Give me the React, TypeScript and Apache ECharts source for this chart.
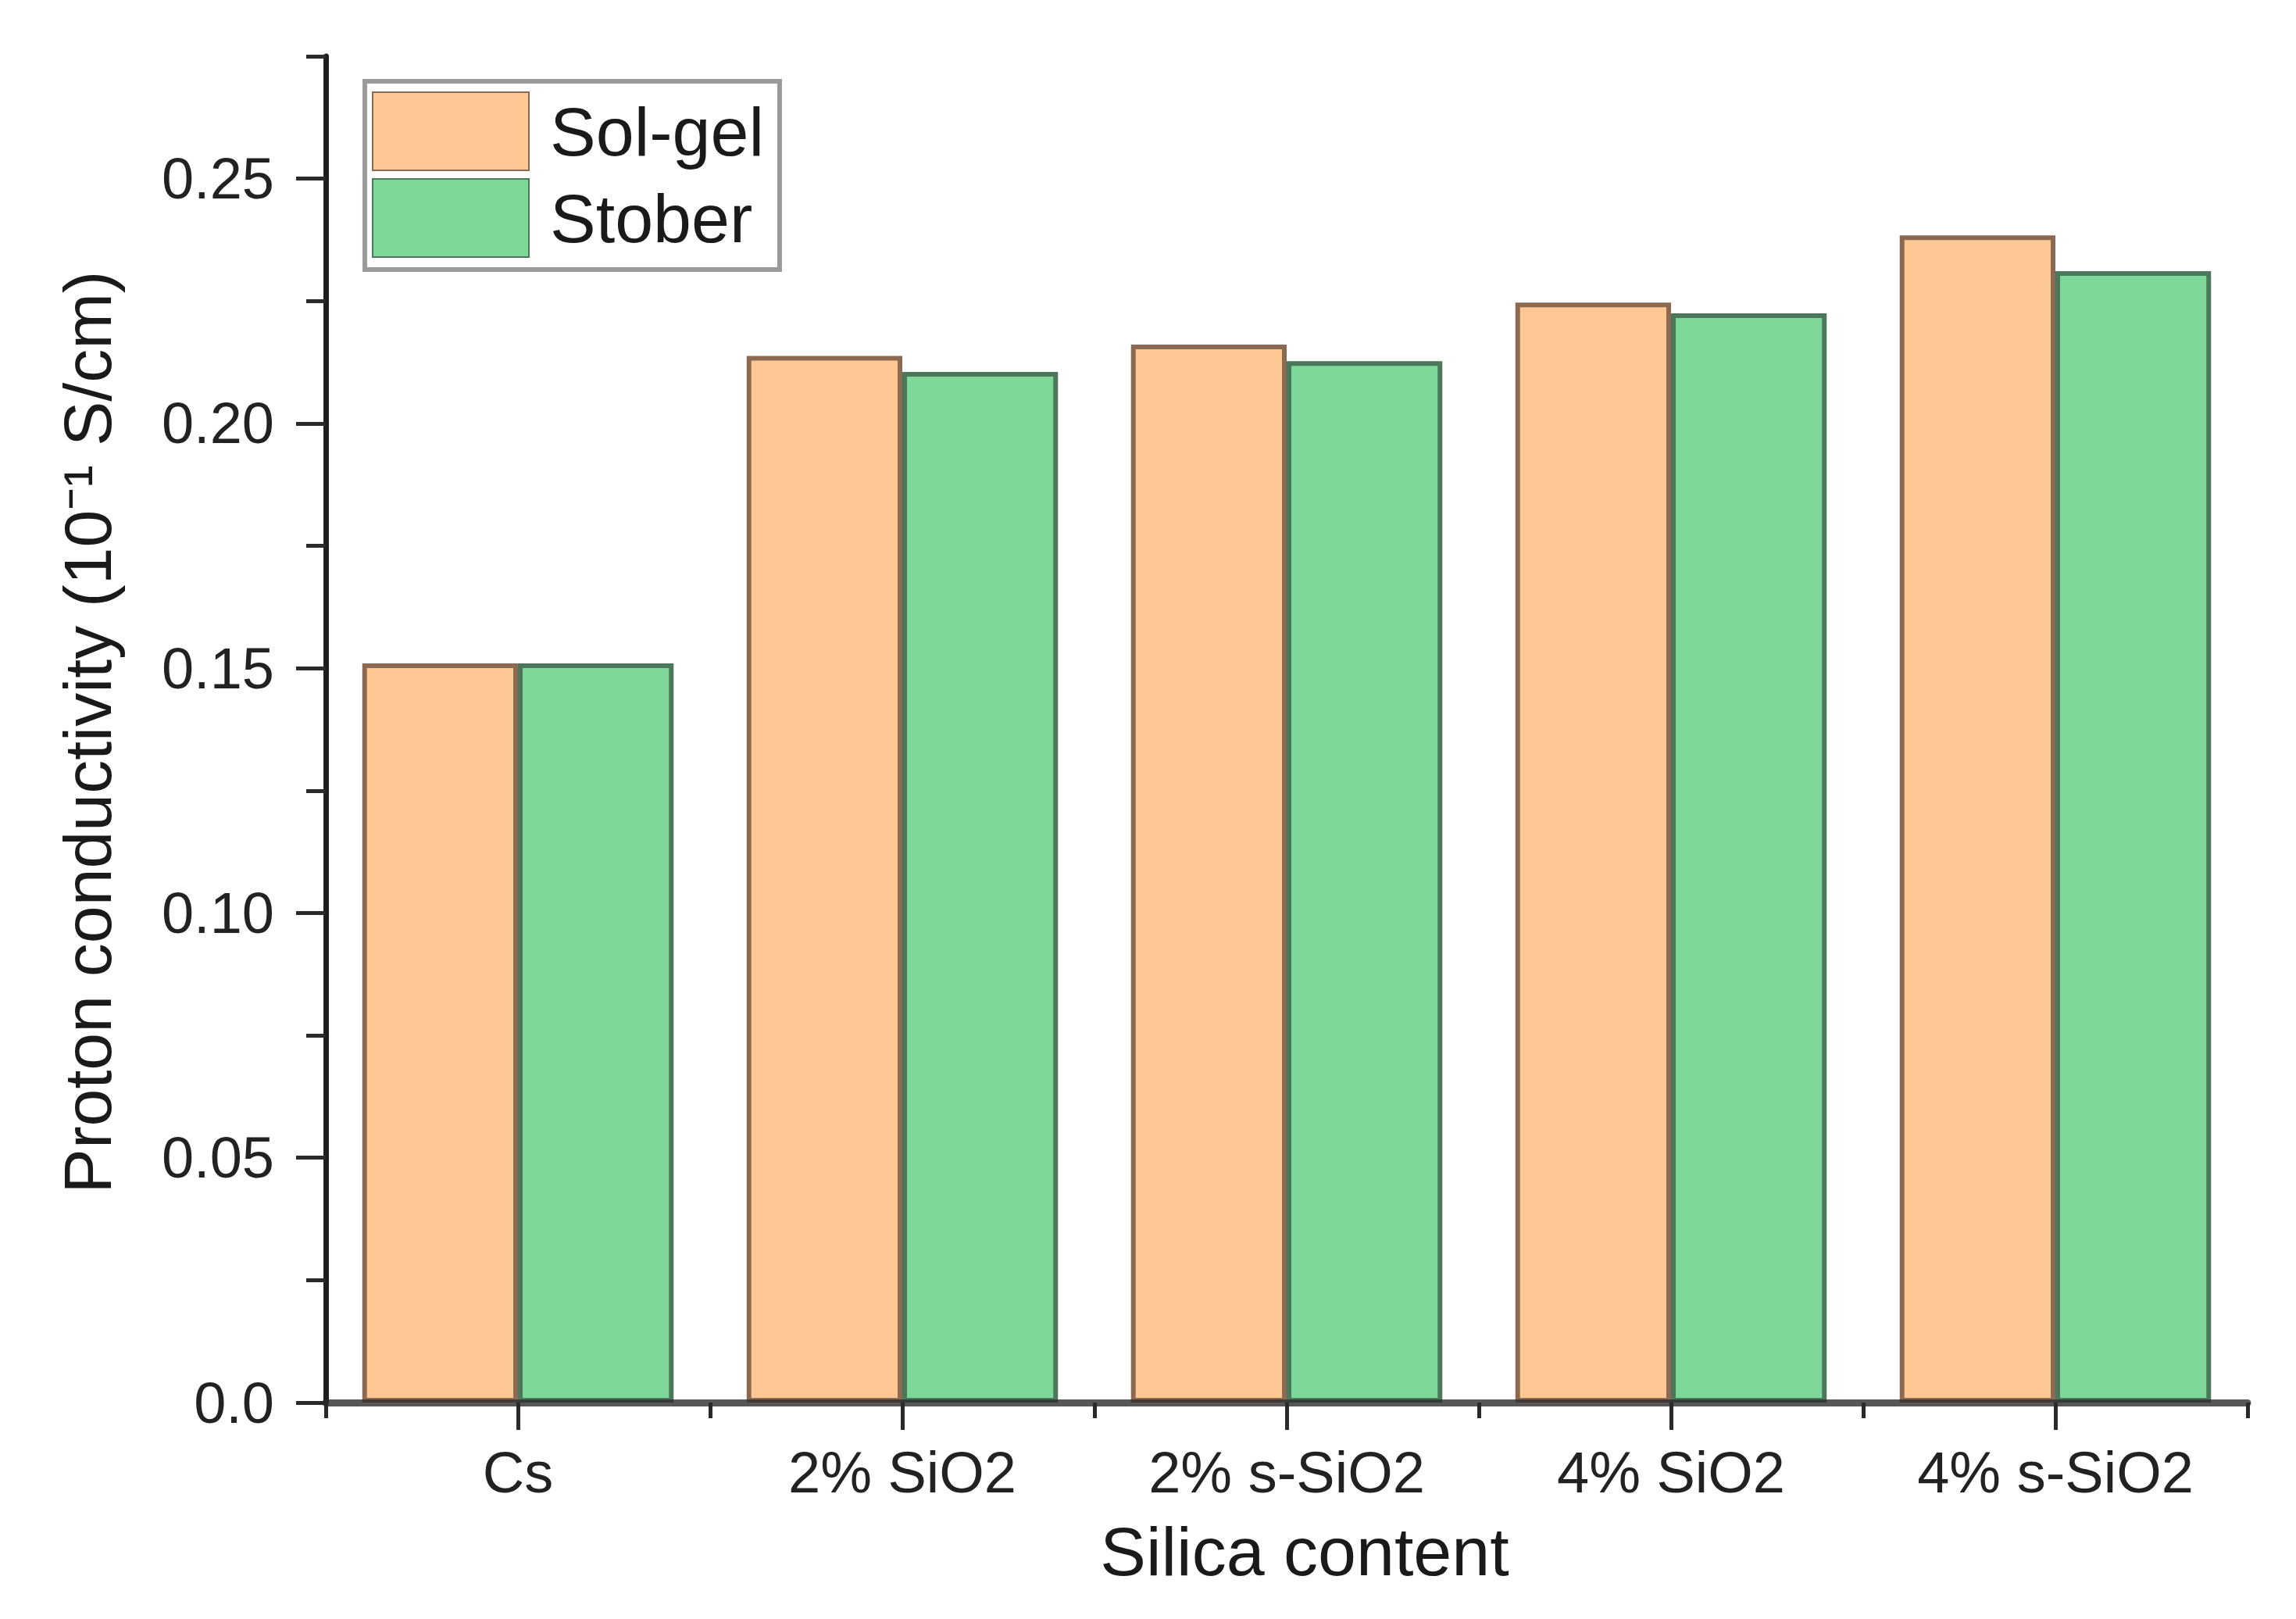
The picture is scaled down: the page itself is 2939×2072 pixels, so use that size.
import React, { useEffect, useRef } from "react";
import * as echarts from "echarts";

const categories = ["Cs", "2% SiO2", "2% s-SiO2", "4% SiO2", "4% s-SiO2"];
const solGel = [0.151, 0.2138, 0.2161, 0.2247, 0.2384];
const stober = [0.151, 0.2105, 0.2127, 0.2225, 0.2311];
const yTickValues = [0, 0.05, 0.1, 0.15, 0.2, 0.25];
const yTickLabels = ["0.0", "0.05", "0.10", "0.15", "0.20", "0.25"];
const seriesNames = ["Sol-gel", "Stober"];
const xTitle = "Silica content";
const yTitle = "Proton conductivity (10\u207B\u00B9 S/cm)";

const FONT = "'Liberation Sans', Arial, sans-serif";

export default function App() {
  const ref = useRef<HTMLDivElement>(null);
  useEffect(() => {
    if (!ref.current) return;
    const chart = echarts.init(ref.current, undefined, { renderer: "svg" });
    const tickStyle = { color: "#2a2a2a", width: 5 };
    chart.setOption({
      animation: false,
      backgroundColor: "#ffffff",
      grid: { left: 417, right: 62, top: 72, bottom: 277, containLabel: false },
      legend: {
        orient: "vertical",
        left: 467,
        top: 104,
        padding: [13, 20, 15, 9],
        borderColor: "#9a9a9a",
        borderWidth: 6,
        backgroundColor: "#fff",
        itemWidth: 200,
        itemHeight: 100,
        itemGap: 9,
        icon: "rect",
        data: seriesNames,
        textStyle: { fontFamily: FONT, fontSize: 88, color: "#1a1a1a", padding: [0, 0, 0, 22] },
      },
      xAxis: [
        {
          type: "category",
          data: categories,
          position: "bottom",
          z: 5,
          axisLine: { show: true, lineStyle: { color: "rgba(45,45,45,0.8)", width: 9 } },
          axisTick: { show: true, alignWithLabel: false, length: 20, lineStyle: tickStyle },
          axisLabel: { show: true, fontFamily: FONT, fontSize: 74, color: "#222", margin: 52 },
          splitLine: { show: false },
        },
        {
          type: "category",
          data: categories,
          position: "bottom",
          z: 5,
          axisLine: { show: false },
          axisTick: { show: true, alignWithLabel: true, length: 35, lineStyle: tickStyle },
          axisLabel: { show: false },
          splitLine: { show: false },
        },
      ],
      yAxis: [
        {
          type: "value",
          min: 0,
          max: 0.275,
          interval: 0.025,
          position: "left",
          z: 5,
          axisLine: { show: true, lineStyle: { color: "#1e1e1e", width: 7 } },
          axisTick: { show: true, length: 25, lineStyle: tickStyle },
          axisLabel: { show: false },
          splitLine: { show: false },
        },
        {
          type: "value",
          min: 0,
          max: 0.275,
          position: "left",
          z: 5,
          axisLine: { show: false },
          axisTick: { show: true, length: 38, lineStyle: tickStyle, customValues: yTickValues },
          axisLabel: {
            show: true,
            customValues: yTickValues,
            fontFamily: FONT,
            fontSize: 74,
            color: "#222",
            margin: 66,
            formatter: (v: number) => {
              const i = yTickValues.findIndex((t) => Math.abs(t - v) < 1e-9);
              return i >= 0 ? yTickLabels[i] : "";
            },
          },
          splitLine: { show: false },
        },
      ],
      series: [
        {
          name: seriesNames[0],
          type: "bar",
          data: solGel,
          xAxisIndex: 0,
          yAxisIndex: 0,
          barGap: "0%",
          barCategoryGap: "19%",
          itemStyle: { color: "#FEC895", borderColor: "#8c6a52", borderWidth: 6 },
        },
        {
          name: seriesNames[1],
          type: "bar",
          data: stober,
          xAxisIndex: 0,
          yAxisIndex: 0,
          barGap: "0%",
          barCategoryGap: "19%",
          itemStyle: { color: "#7ED89A", borderColor: "#4b775a", borderWidth: 6 },
        },
      ],
      graphic: [
        {
          type: "text",
          x: 1670,
          y: 1985,
          style: {
            text: xTitle,
            fontFamily: FONT,
            fontSize: 88,
            fill: "#1a1a1a",
            textAlign: "center",
            textVerticalAlign: "middle",
          },
        },
        {
          type: "text",
          x: 112,
          y: 937,
          rotation: Math.PI / 2,
          style: {
            text: yTitle,
            fontFamily: FONT,
            fontSize: 86,
            fill: "#1a1a1a",
            textAlign: "center",
            textVerticalAlign: "middle",
          },
        },
      ],
    });
    return () => chart.dispose();
  }, []);
  return (
    <div
      ref={ref}
      style={{ position: "absolute", left: 0, top: 0, width: 2939, height: 2072, background: "#fff" }}
    />
  );
}
